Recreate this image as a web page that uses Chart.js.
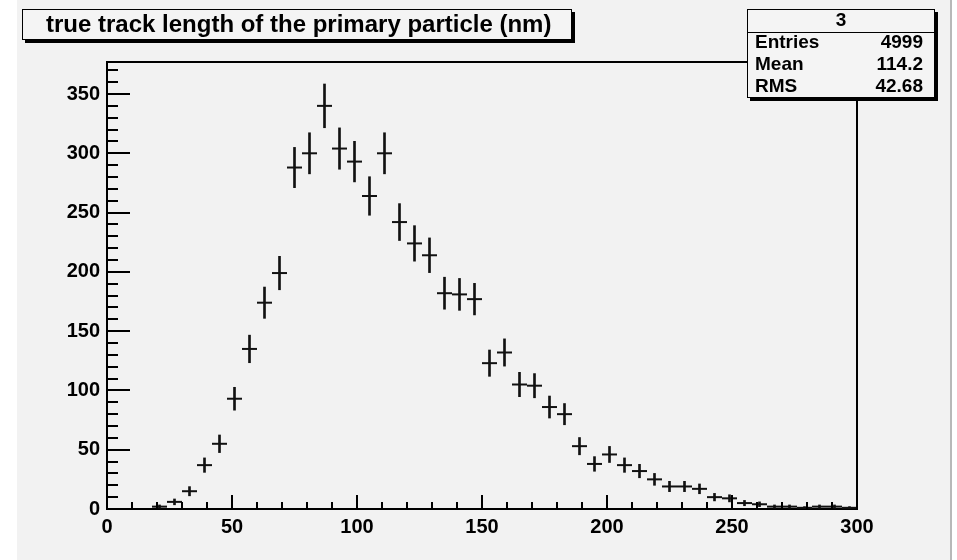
<!DOCTYPE html>
<html><head><meta charset="utf-8">
<script src="https://cdn.jsdelivr.net/npm/chart.js@4.4.1/dist/chart.umd.min.js"></script>
<style>
html,body{margin:0;padding:0;background:#fff;}
#wrap{position:relative;width:957px;height:560px;overflow:hidden;}
#bg{position:absolute;left:17px;top:0;width:933px;height:560px;background:#f2f2f2;border-right:2px solid #b8b8b8;}
canvas{position:absolute;left:0;top:0;}
</style></head>
<body><div id="wrap"><div id="bg"></div><canvas id="c" width="957" height="560"></canvas></div>
<script>
const binCenters = [3,9,15,21,27,33,39,45,51,57,63,69,75,81,87,93,99,105,111,117,123,129,135,141,147,153,159,165,171,177,183,189,195,201,207,213,219,225,231,237,243,249,255,261,267,273,279,285,291,297];
const counts = [0,0,0,2,6,15,37,55,93,135,174,199,288,300,340,304,293,264,300,242,224,214,182,181,177,123,132,105,104,86,80,53,38,46,37,32,25,19,19,17,10,9,5,4,2,2,1,2,2,1];
const binHalfWidth = 3;
const xTickValues = [0,50,100,150,200,250,300];
const yTickValues = [0,50,100,150,200,250,300,350];
const titleText = 'true track length of the primary particle (nm)';
const statsName = '3';
const statsLabels = ['Entries','Mean','RMS'];
const statsValues = ['4999','114.2','42.68'];

const FONT = 'Liberation Sans, Arial, Helvetica, sans-serif';
const pts = binCenters.map((c,i)=>({x:c, y:counts[i]})).filter(p=>p.y>0);
const errBars = pts.map(p=>({x:p.x, y:[p.y-Math.sqrt(p.y), p.y+Math.sqrt(p.y)]}));

const rootDecor = {
  id:'rootDecor',
  afterDatasetsDraw(chart){
    const {ctx, chartArea:a, scales:{x,y}} = chart;
    ctx.save();
    ctx.strokeStyle='#000'; ctx.lineWidth=2; ctx.lineCap='butt';
    ctx.beginPath();
    for(let v=0; v<=y.max; v+=10){
      const py = Math.round(y.getPixelForValue(v));
      const len = (v%50===0)?23:11;
      ctx.moveTo(a.left, py); ctx.lineTo(a.left+len, py);
    }
    for(let v=0; v<=x.max; v+=10){
      const px = Math.round(x.getPixelForValue(v));
      const len = (v%50===0)?14:7;
      ctx.moveTo(px, a.bottom); ctx.lineTo(px, a.bottom-len);
    }
    ctx.moveTo(a.left-1, a.top); ctx.lineTo(a.right, a.top); ctx.lineTo(a.right, a.bottom+1);
    ctx.stroke();
    ctx.restore();
  },
  afterDraw(chart){
    const ctx = chart.ctx;
    ctx.save();
    // title box
    ctx.fillStyle='#000'; ctx.fillRect(25,12,550,31);
    ctx.fillStyle='#f4f4f4'; ctx.fillRect(22,9,550,31);
    ctx.strokeStyle='#000'; ctx.lineWidth=1; ctx.strokeRect(22.5,9.5,549,30);
    ctx.fillStyle='#000'; ctx.font='bold 24px '+FONT; ctx.textBaseline='middle'; ctx.textAlign='left';
    ctx.fillText(titleText, 46, 25);
    // stats box
    const sx=747, sy=9, sw=188, sh=89;
    ctx.fillStyle='#000'; ctx.fillRect(sx+3,sy+3,sw,sh);
    ctx.fillStyle='#f4f4f4'; ctx.fillRect(sx,sy,sw,sh);
    ctx.strokeRect(sx+0.5,sy+0.5,sw-1,sh-1);
    ctx.beginPath(); ctx.moveTo(sx, 32.5); ctx.lineTo(sx+sw, 32.5); ctx.stroke();
    ctx.fillStyle='#000'; ctx.font='bold 19px '+FONT; ctx.textAlign='center';
    ctx.fillText(statsName, sx+sw/2, 21);
    const rows=[43,65,87];
    statsLabels.forEach((l,i)=>{
      ctx.textAlign='left'; ctx.fillText(l, sx+8, rows[i]);
      ctx.textAlign='right'; ctx.fillText(statsValues[i], sx+sw-12, rows[i]);
    });
    ctx.restore();
  }
};

new Chart(document.getElementById('c'), {
  type:'scatter',
  data:{datasets:[
    {type:'bar', data:errBars, backgroundColor:'#111', borderWidth:0, barThickness:2, grouped:false},
    {type:'scatter', data:pts, showLine:false, pointStyle:'line', borderColor:'#111', borderWidth:2,
     pointRadius:(c)=>{const s=c.chart.scales.x; return s.getPixelForValue(binHalfWidth)-s.getPixelForValue(0);},
     pointHoverRadius:0}
  ]},
  options:{
    responsive:false, animation:false, devicePixelRatio:1, events:[],
    layout:{padding:{left:47,right:100,top:62,bottom:0}},
    plugins:{legend:{display:false}, tooltip:{enabled:false}},
    scales:{
      x:{type:'linear', offset:false, min:0, max:300,
        afterFit(s){s.height=51;},
        afterBuildTicks(s){s.ticks=xTickValues.map(v=>({value:v}));},
        grid:{display:false, drawTicks:false, offset:false},
        border:{display:true, color:'#000', width:2},
        ticks:{padding:6, color:'#000', font:{family:FONT, size:20, weight:'bold'}, maxRotation:0, autoSkip:false}},
      y:{type:'linear', min:0, max:377,
        afterFit(s){s.width=60;},
        afterBuildTicks(s){s.ticks=yTickValues.map(v=>({value:v}));},
        grid:{display:false, drawTicks:false},
        border:{display:true, color:'#000', width:2},
        ticks:{padding:7, color:'#000', font:{family:FONT, size:20, weight:'bold'}, autoSkip:false}}
    }
  },
  plugins:[rootDecor]
});
</script>
</body></html>
